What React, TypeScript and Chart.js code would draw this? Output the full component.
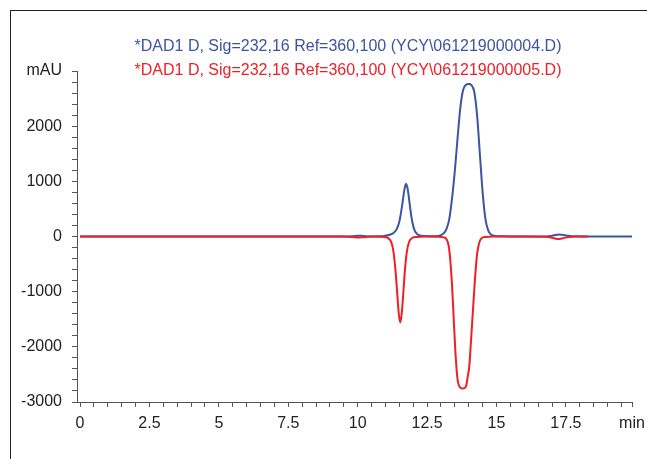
import React, { useEffect, useRef } from "react";
import { Chart, registerables } from "chart.js";

Chart.register(...registerables);

const FONT = '"Liberation Sans", Arial, Helvetica, sans-serif';

const legendLines = [
  "*DAD1 D, Sig=232,16 Ref=360,100 (YCY\\061219000004.D)",
  "*DAD1 D, Sig=232,16 Ref=360,100 (YCY\\061219000005.D)",
];

const BLUE = "#3b54a3";
const RED = "#ee1f26";

// sample 004 (blue): retention time (min) and signal (mAU)
const blueTime = [
  0, 2, 4, 6, 8, 9.5, 9.8, 10.0, 10.2, 10.5, 10.8, 11.0, 11.2, 11.3, 11.4, 11.5, 11.6, 11.68,
  11.74, 11.8, 11.88, 11.96, 12.05, 12.15, 12.3, 12.5, 12.8, 13.0, 13.1, 13.2, 13.3, 13.4, 13.5,
  13.6, 13.7, 13.8, 13.9, 14.0, 14.1, 14.2, 14.3, 14.4, 14.5, 14.6, 14.7, 14.8, 14.95, 15.2, 16.0,
  16.8, 17.0, 17.25, 17.5, 17.8, 18.5, 19.88,
];
const blueSignal = [
  0, 0, 0, 0, 0, 0, 5, 15, 10, 2, 4, 15, 40, 70, 130, 270, 560, 840,
  955, 860, 560, 280, 110, 40, 12, 4, 6, 25, 60, 140, 320, 700, 1200,
  1800, 2350, 2660, 2750, 2765, 2745, 2620, 2200, 1500, 800, 320, 110, 35, 10, 3, 0,
  0, 15, 35, 20, 3, 0, 0,
];

// sample 005 (red)
const redTime = [
  0, 2, 4, 6, 8, 9.5, 9.8, 10.0, 10.2, 10.5, 10.8, 11.0, 11.1, 11.2, 11.28, 11.35, 11.42, 11.48,
  11.53, 11.58, 11.64, 11.7, 11.77, 11.85, 11.95, 12.1, 12.4, 12.9, 13.1, 13.2, 13.27, 13.33, 13.4,
  13.46, 13.52, 13.6, 13.7, 13.8, 13.9, 13.96, 14.02, 14.08, 14.15, 14.22, 14.3, 14.38, 14.46, 14.6,
  14.9, 16.0, 16.8, 17.0, 17.2, 17.4, 17.6, 17.9, 18.3,
];
const redSignal = [
  0, 0, 0, 0, 0, 0, -8, -18, -12, -2, -3, -10, -30, -90, -250, -550, -1000, -1400,
  -1560, -1420, -1050, -620, -280, -100, -30, -8, -2, -3, -15, -50, -150, -400, -900,
  -1500, -2100, -2600, -2740, -2755, -2720, -2550, -2350, -1900, -1350, -800, -320, -110, -30, -8,
  -2, 0, -3, -25, -45, -30, -8, 0, 0,
];

// axis extents (the time axis starts a little before 0 and ends at the end of the run)
const xMin = -0.11;
const xMax = 19.88;
const xStep = 0.5;
const xLabelStep = 2.5;
const yMin = -3000;
const yMax = 3000;
const yStep = 200;
const yLabelStep = 1000;
const xUnit = "min";
const yUnit = "mAU";

const headerPlugin = {
  id: "header",
  afterDraw(chart: any) {
    const ctx = chart.ctx;
    ctx.save();
    ctx.font = `16px ${FONT}`;
    ctx.textAlign = "center";
    ctx.textBaseline = "middle";
    ctx.fillStyle = BLUE;
    ctx.fillText(legendLines[0], 348, 47);
    ctx.fillStyle = RED;
    ctx.fillText(legendLines[1], 348, 71);
    ctx.restore();
  },
};

export default function App() {
  const ref = useRef<HTMLCanvasElement | null>(null);

  useEffect(() => {
    if (!ref.current) return;
    const blueData = blueTime.map((t, i) => ({ x: t, y: blueSignal[i] }));
    const redData = redTime.map((t, i) => ({ x: t, y: redSignal[i] }));
    const xTicks: number[] = [];
    for (let v = 0; v < xMax - 1e-9; v += xStep) xTicks.push(Math.round(v * 10) / 10);
    xTicks.push(xMax);
    const chart = new Chart(ref.current, {
      type: "line",
      data: {
        datasets: [
          {
            label: legendLines[0],
            data: blueData,
            borderColor: BLUE,
            borderWidth: 2,
            pointRadius: 0,
            cubicInterpolationMode: "monotone",
            order: 1,
          },
          {
            label: legendLines[1],
            data: redData,
            borderColor: RED,
            borderWidth: 2,
            pointRadius: 0,
            cubicInterpolationMode: "monotone",
            order: 0,
          },
        ],
      },
      options: {
        responsive: false,
        animation: false,
        layout: { padding: { top: 71, right: 15, left: 0, bottom: 0 } },
        plugins: { legend: { display: false }, tooltip: { enabled: false }, title: { display: false } },
        scales: {
          x: {
            type: "linear",
            min: xMin,
            max: xMax,
            afterFit: (s: any) => {
              s.height = 57;
              s.paddingLeft = 0;
              s.paddingRight = 0;
            },
            afterBuildTicks: (s: any) => {
              s.ticks = xTicks.map((v) => ({ value: v }));
            },
            ticks: {
              autoSkip: false,
              maxRotation: 0,
              color: "#222",
              font: { size: 16, family: FONT },
              padding: 7,
              callback: (v: any) => {
                const n = Number(v);
                if (Math.abs(n - xMax) < 1e-9) return xUnit;
                if (Math.abs(n / xLabelStep - Math.round(n / xLabelStep)) < 1e-9) return String(n);
                return "";
              },
            },
            grid: { drawOnChartArea: false, tickLength: 5, color: "#555" },
            border: { color: "#555", width: 1 },
          },
          y: {
            type: "linear",
            min: yMin,
            max: yMax,
            afterFit: (s: any) => {
              s.width = 77;
              s.paddingTop = 0;
              s.paddingBottom = 0;
            },
            ticks: {
              stepSize: yStep,
              autoSkip: false,
              color: "#222",
              font: { size: 16, family: FONT },
              padding: 10,
              callback: (v: any) => {
                const n = Number(v);
                if (n === yMax) return yUnit;
                if (n % yLabelStep === 0) return String(n);
                return "";
              },
            },
            grid: { drawOnChartArea: false, tickLength: 5, color: "#555" },
            border: { color: "#555", width: 1 },
          },
        },
      },
      plugins: [headerPlugin],
    });
    return () => chart.destroy();
  }, []);

  return (
    <div style={{ position: "absolute", left: 0, top: 0, width: 647, height: 459, background: "#fff", overflow: "hidden" }}>
      <div
        style={{
          position: "absolute",
          left: 10,
          top: 10,
          width: 637,
          height: 449,
          borderLeft: "1px solid #222",
          borderTop: "1px solid #222",
          boxSizing: "border-box",
        }}
      />
      <canvas ref={ref} width={647} height={459} style={{ position: "absolute", left: 0, top: 0 }} />
    </div>
  );
}
